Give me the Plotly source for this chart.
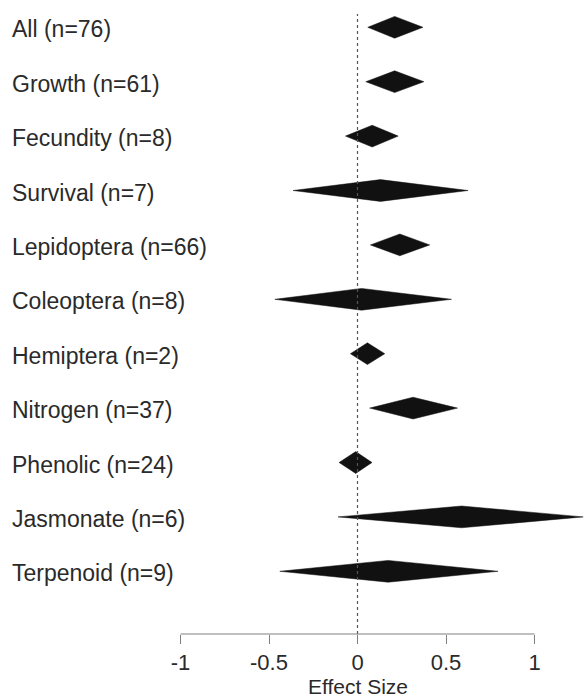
import plotly.graph_objects as go

labels = ["All (n=76)", "Growth (n=61)", "Fecundity (n=8)", "Survival (n=7)",
          "Lepidoptera (n=66)", "Coleoptera (n=8)", "Hemiptera (n=2)",
          "Nitrogen (n=37)", "Phenolic (n=24)", "Jasmonate (n=6)", "Terpenoid (n=9)"]
lower = [0.058, 0.047, -0.068, -0.364, 0.073, -0.467, -0.040, 0.069, -0.104, -0.110, -0.439]
effect = [0.210, 0.210, 0.083, 0.130, 0.239, 0.023, 0.056, 0.314, -0.010, 0.588, 0.173]
upper = [0.370, 0.375, 0.230, 0.625, 0.408, 0.531, 0.154, 0.565, 0.082, 1.275, 0.794]
tick_vals = [-1, -0.5, 0, 0.5, 1]
tick_text = ["-1", "-0.5", "0", "0.5", "1"]
x_title = "Effect Size"

W, H = 584, 697
PX_ZERO, PX_UNIT = 357.5, 177.0
ML, MR, MT, MB = 0, 0, 14, 63
ROW_PX = 54.4
FIRST_ROW_PX = 27.3
HALF_H = 0.2

plot_h = H - MT - MB
y_top = -(FIRST_ROW_PX - MT) / ROW_PX
y_bot = y_top + plot_h / ROW_PX
x_min = -(PX_ZERO - ML) / PX_UNIT
x_max = (W - MR - PX_ZERO) / PX_UNIT

fig = go.Figure()
for i, (lo, m, hi) in enumerate(zip(lower, effect, upper)):
    fig.add_trace(go.Scatter(
        x=[lo, m, hi, m, lo], y=[i, i - HALF_H, i, i + HALF_H, i],
        mode="lines", fill="toself", fillcolor="#111111",
        line=dict(color="#111111", width=0.5), hoverinfo="skip", showlegend=False))

for i, lab in enumerate(labels):
    fig.add_annotation(text=lab, xref="x", yref="y", x=x_min + 12 / PX_UNIT, y=i,
                       xanchor="left", yanchor="middle", xshift=-2, yshift=-2,
                       showarrow=False, font=dict(size=23, color="#2a2a2a"))

# reference line at zero
fig.add_shape(type="line", xref="x", yref="paper", x0=0, x1=0, y0=0, y1=1,
              line=dict(color="#555555", width=1.2, dash="dot"))
# axis line spanning the tick range
fig.add_shape(type="line", xref="x", yref="paper", x0=tick_vals[0], x1=tick_vals[-1],
              y0=0, y1=0, line=dict(color="#808080", width=1.2))
# axis title centred under the tick range
fig.add_annotation(text=x_title, xref="x", yref="paper",
                   x=(tick_vals[0] + tick_vals[-1]) / 2, y=0,
                   xanchor="center", yanchor="middle", yshift=-52, showarrow=False,
                   font=dict(size=21, color="#2a2a2a"))

fig.update_layout(
    width=W, height=H, margin=dict(l=ML, r=MR, t=MT, b=MB, pad=0, autoexpand=False),
    paper_bgcolor="white", plot_bgcolor="white",
    font=dict(family="Liberation Sans, Arial, sans-serif", color="#2a2a2a"),
    xaxis=dict(range=[x_min, x_max], fixedrange=True, showline=False,
               ticks="outside", ticklen=9, tickcolor="#808080", tickwidth=1.2,
               tickvals=tick_vals, ticktext=tick_text, tickfont=dict(size=22),
               showgrid=False, zeroline=False, automargin=False),
    yaxis=dict(range=[y_bot, y_top], visible=False, fixedrange=True),
)
fig.write_html("out.html", config={"displayModeBar": False},
               post_script="document.body.style.margin='0';")
